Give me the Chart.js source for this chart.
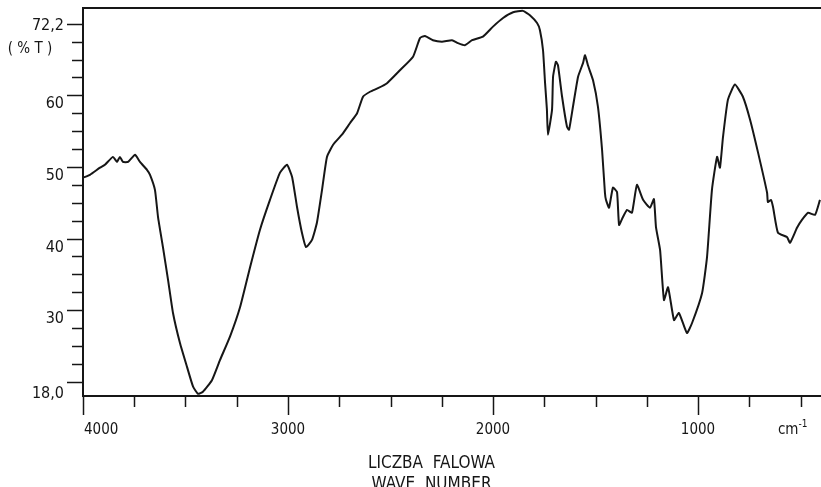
<!DOCTYPE html>
<html>
<head>
<meta charset="utf-8">
<script src="https://cdn.jsdelivr.net/npm/chart.js@4.4.0/dist/chart.umd.min.js"></script>
<style>
  html, body { margin: 0; padding: 0; background: #fff; }
  #wrap { width: 821px; height: 487px; position: relative; }
</style>
</head>
<body>
<div id="wrap"><canvas id="irChart"></canvas></div>
<script>
// IR spectrum, left (4000 cm-1) to right
const waveNumbers = [
  4000, 3966, 3917, 3893, 3854, 3834, 3820, 3805, 3780, 3746, 3722, 3688, 3673, 3649,
  3634, 3610, 3585, 3561, 3527, 3493, 3463, 3439, 3415, 3371, 3332, 3283, 3234, 3185,
  3137, 3088, 3039, 3005, 2980, 2956, 2932, 2912, 2883, 2859, 2834, 2810, 2780, 2737,
  2698, 2663, 2634, 2600, 2561, 2517, 2454, 2390, 2356, 2332, 2293, 2249, 2200, 2171,
  2137, 2102, 2049, 2000, 1951, 1902, 1854, 1820, 1785, 1771, 1756, 1746, 1737, 1732,
  1712, 1707, 1693, 1683, 1663, 1639, 1629, 1610, 1585, 1561, 1551, 1537, 1512, 1488,
  1468, 1454, 1449, 1434, 1415, 1395, 1385, 1366, 1346, 1322, 1298, 1268, 1234, 1215,
  1205, 1185, 1166, 1146, 1117, 1093, 1054, 1029, 980, 956, 932, 907, 893, 878,
  854, 820, 781, 746, 707, 663, 659, 644, 634, 610, 566, 551, 517, 493,
  463, 429, 405
];
const transmittance = [
  48.5, 48.9, 49.9, 50.3, 51.4, 50.7, 51.4, 50.7, 50.7, 51.7, 50.7, 49.6, 48.9, 46.8,
  43.0, 38.8, 34.2, 29.6, 25.4, 22.1, 19.3, 18.3, 18.6, 20.2, 23.0, 26.3, 30.4, 36.0,
  41.2, 45.4, 49.2, 50.3, 48.6, 44.4, 40.8, 38.8, 39.8, 42.2, 46.8, 51.4, 53.1, 54.5,
  56.1, 57.5, 59.8, 60.5, 61.0, 61.7, 63.5, 65.4, 68.0, 68.3, 67.7, 67.5, 67.7, 67.3,
  67.0, 67.7, 68.2, 69.6, 70.8, 71.6, 71.8, 71.2, 70.1, 69.1, 66.3, 61.7, 58.0, 54.5,
  58.0, 62.6, 64.7, 64.2, 59.8, 55.6, 55.2, 58.4, 62.6, 64.5, 65.6, 64.2, 62.1, 58.4,
  52.4, 46.4, 45.4, 44.3, 47.1, 46.5, 41.9, 43.0, 44.0, 43.6, 47.5, 45.4, 44.3, 45.5,
  41.6, 38.4, 31.4, 33.2, 28.6, 29.6, 26.8, 28.2, 32.4, 37.4, 46.8, 51.4, 49.9, 54.2,
  59.4, 61.5, 59.8, 56.6, 52.0, 46.4, 45.1, 45.4, 44.4, 40.8, 40.2, 39.4, 41.5, 42.6,
  43.6, 43.3, 45.4
];

const xTicks = [4000, 3750, 3500, 3250, 3000, 2750, 2500, 2250, 2000, 1750, 1500, 1250, 1000, 750, 500];
const xTickLabels = { 4000: '4000', 3000: '3000', 2000: '2000', 1000: '1000' };
const xUnitTick = 500;
const yTicks = [20, 22.5, 25, 27.5, 30, 32.5, 35, 37.5, 40, 42.5, 45, 47.5, 50, 52.5, 55, 57.5, 60, 62.5, 65, 67.5, 70];
const yTickLabels = { 70: '72,2', 60: '60', 50: '50', 40: '40', 30: '30', 20: '18,0' };
const xTitle = ['LICZBA  FALOWA', 'WAVE  NUMBER'];
const yUnit = '( % T )';

const INK = '#161616';
const FONT = '"Liberation Sans Narrow", "DejaVu Sans Condensed", sans-serif';

// axis frame, tick marks and labels drawn from the scales
const axisMarks = {
  id: 'axisMarks',
  afterDraw(chart) {
    const { ctx, chartArea: a, scales: { x, y } } = chart;
    ctx.save();
    ctx.strokeStyle = INK;
    ctx.fillStyle = INK;

    // frame: left, bottom, top
    ctx.lineWidth = 2;
    ctx.beginPath();
    ctx.moveTo(a.right, a.top);
    ctx.lineTo(a.left, a.top);
    ctx.lineTo(a.left, a.bottom);
    ctx.lineTo(a.right, a.bottom);
    ctx.stroke();

    // x ticks
    ctx.lineWidth = 1.5;
    xTicks.forEach(v => {
      const px = Math.round(x.getPixelForValue(v)) + 0.5;
      const len = xTickLabels[v] ? 19 : 11;
      ctx.beginPath();
      ctx.moveTo(px, a.bottom);
      ctx.lineTo(px, a.bottom + len);
      ctx.stroke();
    });
    ctx.font = '15px ' + FONT;
    ctx.textBaseline = 'alphabetic';
    xTicks.forEach(v => {
      const lbl = xTickLabels[v];
      if (!lbl) return;
      const px = x.getPixelForValue(v);
      ctx.textAlign = v === 4000 ? 'left' : 'center';
      ctx.fillText(lbl, v === 4000 ? px + 1 : px, a.bottom + 38);
    });
    // unit under the 500 tick
    const ux = x.getPixelForValue(xUnitTick);
    ctx.textAlign = 'right';
    ctx.fillText('cm', ux - 2, a.bottom + 38);
    ctx.font = '10px ' + FONT;
    ctx.textAlign = 'left';
    ctx.fillText('-1', ux - 2, a.bottom + 31);

    // x title
    ctx.font = '17px ' + FONT;
    ctx.textAlign = 'center';
    const tx = x.getPixelForValue(2300);
    ctx.fillText(xTitle[0], tx, a.bottom + 72);
    ctx.fillText(xTitle[1], tx, a.bottom + 93);

    // y ticks
    ctx.lineWidth = 1.5;
    yTicks.forEach(v => {
      const py = Math.round(y.getPixelForValue(v)) + 0.5;
      const len = yTickLabels[v] ? 16 : 11;
      ctx.beginPath();
      ctx.moveTo(a.left, py);
      ctx.lineTo(a.left - len, py);
      ctx.stroke();
    });
    ctx.font = '16px ' + FONT;
    ctx.textAlign = 'right';
    yTicks.forEach(v => {
      const lbl = yTickLabels[v];
      if (!lbl) return;
      const py = y.getPixelForValue(v);
      const off = v === 70 ? 6 : (v === 20 ? 16 : 13);
      ctx.fillText(lbl, a.left - 19, py + off);
    });
    ctx.textAlign = 'center';
    ctx.font = '15px ' + FONT;
    ctx.fillText(yUnit, 30, y.getPixelForValue(70) + 29);

    ctx.restore();
  }
};

const points = waveNumbers.map((w, i) => ({ x: w, y: transmittance[i] }));

new Chart(document.getElementById('irChart'), {
  type: 'line',
  data: {
    datasets: [{
      data: points,
      borderColor: INK,
      borderWidth: 2,
      pointRadius: 0,
      tension: 0.15,
      fill: false
    }]
  },
  options: {
    responsive: true,
    maintainAspectRatio: false,
    animation: false,
    layout: { padding: { left: 83, top: 8, right: 0, bottom: 91 } },
    plugins: { legend: { display: false }, tooltip: { enabled: false } },
    scales: {
      x: { type: 'linear', reverse: true, min: 400, max: 4000, display: false },
      y: { type: 'linear', min: 18, max: 72.2, display: false }
    }
  },
  plugins: [axisMarks]
});
</script>
</body>
</html>
